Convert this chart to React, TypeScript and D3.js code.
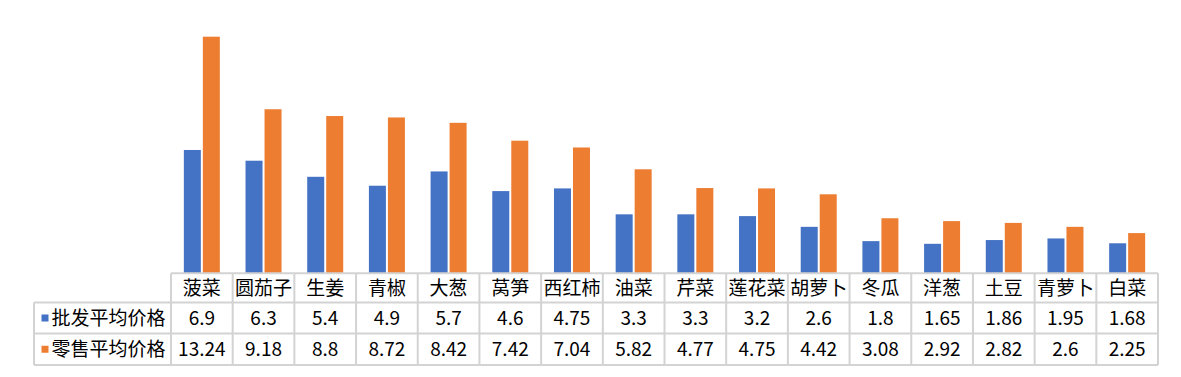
import React from "react";
import * as d3 from "d3";

const categories = ["菠菜", "圆茄子", "生姜", "青椒", "大葱", "莴笋", "西红柿", "油菜", "芹菜", "莲花菜", "胡萝卜", "冬瓜", "洋葱", "土豆", "青萝卜", "白菜"];
const wholesale = [6.9, 6.3, 5.4, 4.9, 5.7, 4.6, 4.75, 3.3, 3.3, 3.2, 2.6, 1.8, 1.65, 1.86, 1.95, 1.68];
const retail = [13.24, 9.18, 8.8, 8.72, 8.42, 7.42, 7.04, 5.82, 4.77, 4.75, 4.42, 3.08, 2.92, 2.82, 2.6, 2.25];
const seriesNames = ["批发平均价格", "零售平均价格"];
const seriesColors = ["#4472C4", "#ED7D31"];
const seriesValues = [wholesale, retail];

const W = 1181;
const H = 377;
const tableLeft = 34;
const plotLeft = 171;
const plotRight = 1158;
const baseY = 273.3;
const topY = 23.1;
const rowYs = [273.3, 302.5, 333.5, 365];

const FONT = "'Noto Sans CJK SC', 'Noto Sans', sans-serif";

export default function App() {
  const x0 = d3.scaleBand<string>().domain(categories).range([plotLeft, plotRight]).paddingInner(0).paddingOuter(0);
  const x1 = d3.scaleBand<string>().domain(seriesNames).range([-18, 18]).paddingInner(2 / 19).paddingOuter(0);
  const y = d3.scaleLinear().domain([0, 14]).range([baseY, topY]);
  const step = x0.step();
  const border = "#d3d3d3";
  const bw = 2;

  return (
    <svg width={W} height={H} style={{ position: "absolute", left: 0, top: 0, background: "#fff" }}>
      <rect x={0} y={0} width={W} height={H} fill="#fff" />
      {categories.map((c, i) => {
        const cx = (x0(c) as number) + step / 2;
        return (
          <g key={c}>
            {seriesNames.map((s, k) => {
              const v = seriesValues[k][i];
              return (
                <rect
                  key={s}
                  x={cx + (x1(s) as number)}
                  y={y(v)}
                  width={x1.bandwidth()}
                  height={baseY - y(v)}
                  fill={seriesColors[k]}
                />
              );
            })}
          </g>
        );
      })}
      {/* table lines */}
      <g stroke={border} strokeWidth={bw} fill="none">
        <line x1={plotLeft} x2={plotRight} y1={rowYs[0]} y2={rowYs[0]} />
        {rowYs.slice(1).map((ry, i) => (
          <line key={i} x1={tableLeft} x2={plotRight} y1={ry} y2={ry} />
        ))}
        <line x1={tableLeft} x2={tableLeft} y1={rowYs[1]} y2={rowYs[3]} />
        {d3.range(categories.length + 1).map((i) => {
          const xx = plotLeft + i * step;
          return <line key={i} x1={xx} x2={xx} y1={rowYs[0]} y2={rowYs[3]} />;
        })}
      </g>
      {/* header */}
      <g fontFamily={FONT} fontSize={19} fill="#000" textAnchor="middle">
        {categories.map((c) => (
          <text key={c} x={(x0(c) as number) + step / 2} y={(rowYs[0] + rowYs[1]) / 2} dy="0.36em">
            {c}
          </text>
        ))}
      </g>
      {seriesNames.map((s, k) => {
        const cy = (rowYs[k + 1] + rowYs[k + 2]) / 2;
        return (
          <g key={s} fontFamily={FONT} fontSize={19} fill="#000">
            <rect x={41.5} y={cy - 3.5} width={7} height={7} fill={seriesColors[k]} />
            <text x={51.5} y={cy} dy="0.36em">{s}</text>
            {categories.map((c, i) => (
              <text key={c} x={(x0(c) as number) + step / 2} y={cy} dy="0.36em" textAnchor="middle">
                {String(seriesValues[k][i])}
              </text>
            ))}
          </g>
        );
      })}
    </svg>
  );
}
